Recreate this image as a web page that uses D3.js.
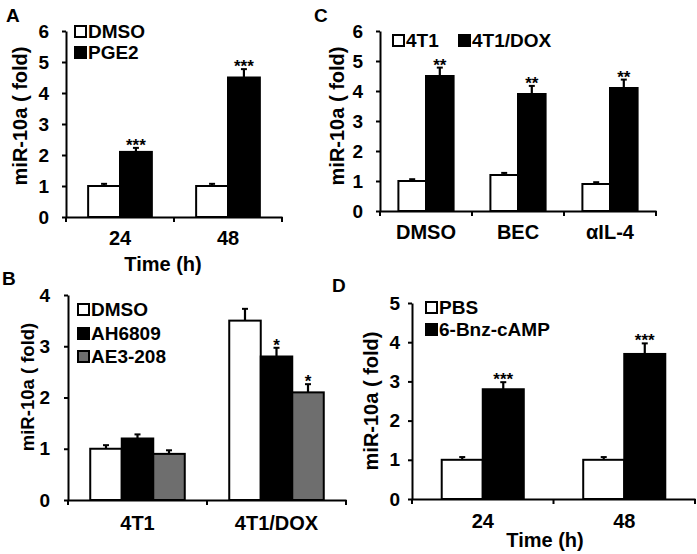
<!DOCTYPE html>
<html>
<head>
<meta charset="utf-8">
<script src="https://cdn.jsdelivr.net/npm/d3@7"></script>
<style>
html,body{margin:0;padding:0;background:#fff;}
svg{display:block;}
text{font-family:"Liberation Sans",Arial,Helvetica,sans-serif;font-weight:bold;fill:#000;}
</style>
</head>
<body>
<svg id="chart" width="697" height="554"></svg>
<script>
// ---------- Panel A ----------
const aCategories = ["24", "48"];
const aSeriesNames = ["DMSO", "PGE2"];
const aDMSO = [1.0, 1.0];
const aPGE2 = [2.1, 4.5];
const aDMSOErr = [0.07, 0.07];
const aPGE2Err = [0.13, 0.27];
const aPGE2Sig = ["***", "***"];
const aYTicks = [0, 1, 2, 3, 4, 5, 6];

// ---------- Panel B ----------
const bCategories = ["4T1", "4T1/DOX"];
const bSeriesNames = ["DMSO", "AH6809", "AE3-208"];
const bDMSO = [1.0, 3.5];
const bAH6809 = [1.2, 2.8];
const bAE3208 = [0.9, 2.1];
const bDMSOErr = [0.07, 0.23];
const bAH6809Err = [0.08, 0.17];
const bAE3208Err = [0.07, 0.16];
const bAH6809Sig = ["", "*"];
const bAE3208Sig = ["", "*"];
const bYTicks = [0, 1, 2, 3, 4];

// ---------- Panel C ----------
const cCategories = ["DMSO", "BEC", "αIL-4"];
const cSeriesNames = ["4T1", "4T1/DOX"];
const c4T1 = [1.0, 1.2, 0.9];
const c4T1DOX = [4.5, 3.9, 4.1];
const c4T1Err = [0.06, 0.07, 0.06];
const c4T1DOXErr = [0.28, 0.27, 0.28];
const c4T1DOXSig = ["**", "**", "**"];
const cYTicks = [0, 1, 2, 3, 4, 5, 6];

// ---------- Panel D ----------
const dCategories = ["24", "48"];
const dSeriesNames = ["PBS", "6-Bnz-cAMP"];
const dPBS = [1.0, 1.0];
const dCAMP = [2.8, 3.7];
const dPBSErr = [0.07, 0.07];
const dCAMPErr = [0.18, 0.27];
const dCAMPSig = ["***", "***"];
const dYTicks = [0, 1, 2, 3, 4, 5];

const fills = ["#ffffff", "#000000", "#6e6e6e"];
const svg = d3.select("#chart");

function panel(cfg) {
  const g = svg.append("g");
  const y = d3.scaleLinear().domain([0, d3.max(cfg.yTicks)]).range([cfg.y0, cfg.y1]);
  const x0 = d3.scaleBand().domain(cfg.categories).range([cfg.x0, cfg.x1])
    .paddingInner(cfg.pad).paddingOuter(cfg.pad / 2);
  const x1 = d3.scaleBand().domain(d3.range(cfg.series.length)).range([0, x0.bandwidth()]);

  cfg.series.forEach((s, si) => {
    const grp = g.append("g");
    const cx = (i) => x0(cfg.categories[i]) + x1(si) + x1.bandwidth() / 2;
    grp.selectAll("rect").data(s.values).join("rect")
      .attr("x", (d, i) => x0(cfg.categories[i]) + x1(si))
      .attr("y", d => y(d))
      .attr("width", x1.bandwidth())
      .attr("height", d => y(0) - y(d))
      .attr("fill", fills[si])
      .attr("stroke", "#000")
      .attr("stroke-width", 2);
    grp.selectAll("line.eb").data(s.values).join("line")
      .attr("class", "eb")
      .attr("x1", (d, i) => cx(i)).attr("x2", (d, i) => cx(i))
      .attr("y1", d => y(d))
      .attr("y2", (d, i) => y(d + s.err[i]))
      .attr("stroke", "#000").attr("stroke-width", 2.2);
    grp.selectAll("line.cap").data(s.values).join("line")
      .attr("class", "cap")
      .attr("x1", (d, i) => cx(i) - 3).attr("x2", (d, i) => cx(i) + 3)
      .attr("y1", (d, i) => y(d + s.err[i]))
      .attr("y2", (d, i) => y(d + s.err[i]))
      .attr("stroke", "#000").attr("stroke-width", 2);
    if (s.sig) {
      grp.selectAll("text.sig").data(s.values).join("text")
        .attr("class", "sig")
        .attr("x", (d, i) => cx(i))
        .attr("y", (d, i) => y(d + s.err[i]) + 3)
        .attr("text-anchor", "middle")
        .style("font-size", "17px")
        .text((d, i) => s.sig[i]);
    }
  });

  // y axis
  const ya = g.append("g").attr("transform", `translate(${cfg.x0},0)`)
    .call(d3.axisLeft(y).tickValues(cfg.yTicks).tickFormat(d3.format("d")).tickSize(4).tickPadding(cfg.yPad).tickSizeOuter(0));
  ya.select(".domain").attr("stroke-width", 2);
  ya.selectAll(".tick line").attr("stroke-width", 2);
  ya.selectAll(".tick text").attr("font-family", null).attr("font-size", null).style("font-size", "19px");

  // x axis
  const xa = g.append("g").attr("transform", `translate(0,${cfg.y0})`)
    .call(d3.axisBottom(x0).tickSize(0).tickPadding(cfg.xPad).tickSizeOuter(0));
  xa.select(".domain").attr("stroke-width", 2);
  xa.selectAll(".tick text").attr("font-family", null).attr("font-size", null).style("font-size", "20px");
  const bounds = cfg.categories.map(c => x0(c) - x0.step() * cfg.pad / 2).concat([cfg.x1]);
  xa.selectAll("line.bt").data(bounds).join("line").attr("class", "bt")
    .attr("x1", d => d).attr("x2", d => d).attr("y1", 0).attr("y2", 5)
    .attr("stroke", "#000").attr("stroke-width", 2);

  // y label
  g.append("text")
    .attr("transform", `translate(${cfg.yLabelX},${cfg.yLabelY}) rotate(-90)`)
    .attr("text-anchor", "middle")
    .style("font-size", cfg.yLabelSize + "px")
    .text("miR-10a ( fold)");

  if (cfg.xTitle) {
    g.append("text").attr("x", cfg.xTitleX).attr("y", cfg.xTitleY)
      .attr("text-anchor", "middle").style("font-size", "20px").text(cfg.xTitle);
  }

  // legend
  cfg.series.forEach((s, si) => {
    const lx = cfg.legend[si][0], ly = cfg.legend[si][1];
    g.append("rect").attr("x", lx).attr("y", ly - 12).attr("width", 11).attr("height", 11)
      .attr("fill", fills[si]).attr("stroke", "#000").attr("stroke-width", 2);
    g.append("text").attr("x", lx + 13).attr("y", ly).style("font-size", "19px").text(s.name);
  });

  g.append("text").attr("x", cfg.letterX).attr("y", cfg.letterY).style("font-size", "19px").text(cfg.letter);
}

panel({
  letter: "A", letterX: 6, letterY: 22,
  categories: aCategories, yTicks: aYTicks,
  x0: 66, x1: 282, y0: 217, y1: 31, pad: 0.41, xPad: 14, yPad: 13,
  series: [
    { name: aSeriesNames[0], values: aDMSO, err: aDMSOErr },
    { name: aSeriesNames[1], values: aPGE2, err: aPGE2Err, sig: aPGE2Sig }
  ],
  legend: [[75, 38], [75, 59]],
  yLabelX: 27, yLabelY: 116, yLabelSize: 20,
  xTitle: "Time (h)", xTitleX: 163, xTitleY: 271
});

panel({
  letter: "C", letterX: 314, letterY: 22,
  categories: cCategories, yTicks: cYTicks,
  x0: 380, x1: 656, y0: 211, y1: 31, pad: 0.40, xPad: 14, yPad: 13,
  series: [
    { name: cSeriesNames[0], values: c4T1, err: c4T1Err },
    { name: cSeriesNames[1], values: c4T1DOX, err: c4T1DOXErr, sig: c4T1DOXSig }
  ],
  legend: [[393, 47], [459, 47]],
  yLabelX: 344, yLabelY: 116, yLabelSize: 20
});

panel({
  letter: "B", letterX: 2, letterY: 285,
  categories: bCategories, yTicks: bYTicks,
  x0: 68, x1: 346, y0: 500, y1: 295, pad: 0.32, xPad: 16, yPad: 14,
  series: [
    { name: bSeriesNames[0], values: bDMSO, err: bDMSOErr },
    { name: bSeriesNames[1], values: bAH6809, err: bAH6809Err, sig: bAH6809Sig },
    { name: bSeriesNames[2], values: bAE3208, err: bAE3208Err, sig: bAE3208Sig }
  ],
  legend: [[78, 316], [78, 340], [78, 363]],
  yLabelX: 34, yLabelY: 387, yLabelSize: 18.5
});

panel({
  letter: "D", letterX: 332, letterY: 292,
  categories: dCategories, yTicks: dYTicks,
  x0: 412, x1: 695, y0: 499, y1: 303, pad: 0.42, xPad: 15, yPad: 8,
  series: [
    { name: dSeriesNames[0], values: dPBS, err: dPBSErr },
    { name: dSeriesNames[1], values: dCAMP, err: dCAMPErr, sig: dCAMPSig }
  ],
  legend: [[426, 314], [426, 336]],
  yLabelX: 378, yLabelY: 401, yLabelSize: 20,
  xTitle: "Time (h)", xTitleX: 545, xTitleY: 547
});
</script>
</body>
</html>
